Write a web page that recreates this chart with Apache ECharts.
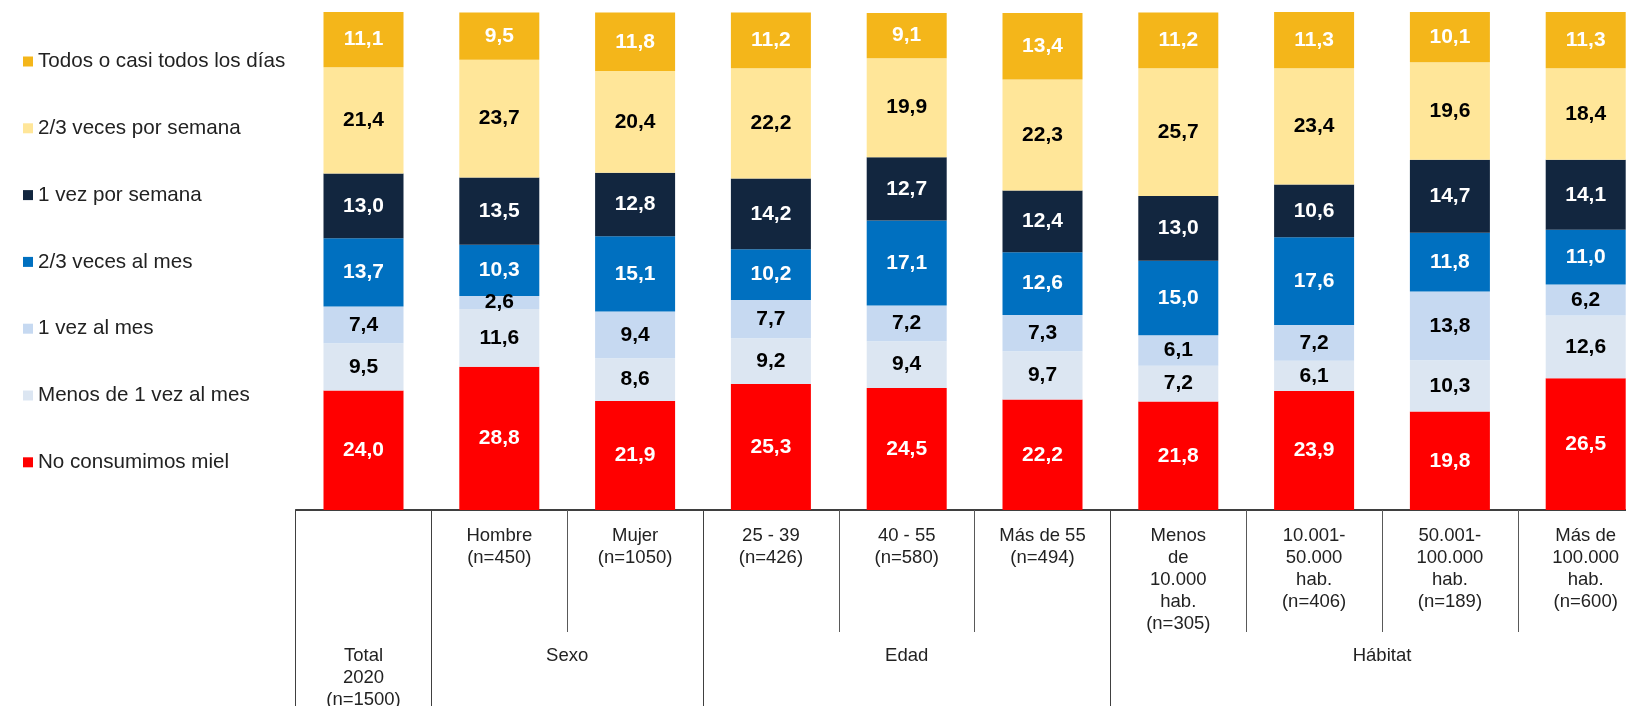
<!DOCTYPE html>
<html><head><meta charset="utf-8">
<script src="https://cdn.jsdelivr.net/npm/echarts@6/dist/echarts.min.js"></script>
<style>html,body{margin:0;padding:0;background:#fff}#c{width:1626px;height:706px}</style>
</head><body><div id="c"></div>
<script>
// ---- Data ----
const categories = ['Total 2020', 'Hombre', 'Mujer', '25 - 39', '40 - 55', 'Más de 55', 'Menos de 10.000 hab.', '10.001-50.000 hab.', '50.001-100.000 hab.', 'Más de 100.000 hab.'];
const categoryLabels = ['', 'Hombre\n(n=450)', 'Mujer\n(n=1050)', '25 - 39\n(n=426)', '40 - 55\n(n=580)', 'Más de 55\n(n=494)', 'Menos\nde\n10.000\nhab.\n(n=305)', '10.001-\n50.000\nhab.\n(n=406)', '50.001-\n100.000\nhab.\n(n=189)', 'Más de\n100.000\nhab.\n(n=600)'];
const groupLabels = ['Total\n2020\n(n=1500)', 'Sexo', 'Edad', 'Hábitat'];
const groupCenters = [0, 1.5, 4, 7.5];
const groupBoundaries = [-0.5, 0.5, 2.5, 5.5];

const noConsumimos  = [24.0, 28.8, 21.9, 25.3, 24.5, 22.2, 21.8, 23.9, 19.8, 26.5];
const menos1Mes     = [9.5, 11.6, 8.6, 9.2, 9.4, 9.7, 7.2, 6.1, 10.3, 12.6];
const unaVezMes     = [7.4, 2.6, 9.4, 7.7, 7.2, 7.3, 6.1, 7.2, 13.8, 6.2];
const dosTresMes    = [13.7, 10.3, 15.1, 10.2, 17.1, 12.6, 15.0, 17.6, 11.8, 11.0];
const unaVezSemana  = [13.0, 13.5, 12.8, 14.2, 12.7, 12.4, 13.0, 10.6, 14.7, 14.1];
const dosTresSemana = [21.4, 23.7, 20.4, 22.2, 19.9, 22.3, 25.7, 23.4, 19.6, 18.4];
const todosDias     = [11.1, 9.5, 11.8, 11.2, 9.1, 13.4, 11.2, 11.3, 10.1, 11.3];

const seriesDefs = [
  {name: 'No consumimos miel', data: noConsumimos, color: '#FF0000', text: '#FFFFFF'},
  {name: 'Menos de 1 vez al mes', data: menos1Mes, color: '#DCE6F2', text: '#000000'},
  {name: '1 vez al mes', data: unaVezMes, color: '#C6D9F1', text: '#000000'},
  {name: '2/3 veces al mes', data: dosTresMes, color: '#0070C0', text: '#FFFFFF'},
  {name: '1 vez por semana', data: unaVezSemana, color: '#12263F', text: '#FFFFFF'},
  {name: '2/3 veces por semana', data: dosTresSemana, color: '#FFE699', text: '#000000'},
  {name: 'Todos o casi todos los días', data: todosDias, color: '#F4B61A', text: '#FFFFFF'}
];

const FONT = '"Liberation Sans", Arial, sans-serif';
const chart = echarts.init(document.getElementById('c'), null, {renderer: 'canvas'});

const option = {
  animation: false,
  backgroundColor: '#ffffff',
  textStyle: {fontFamily: FONT},
  legend: {
    orient: 'vertical',
    left: 18,
    top: 46,
    itemWidth: 10,
    itemHeight: 10,
    itemGap: 45.8,
    icon: 'rect',
    selectedMode: false,
    data: seriesDefs.map(s => s.name).reverse(),
    textStyle: {fontFamily: FONT, fontSize: 20.6, color: '#222', lineHeight: 20}
  },
  grid: {left: 295.6, top: 12.4, width: 1358, height: 497.6, containLabel: false, outerBoundsMode: 'none'},
  xAxis: [
    {
      type: 'category',
      data: categories,
      position: 'bottom',
      axisLine: {show: true, lineStyle: {color: '#000', width: 1.5}},
      axisTick: {show: true, interval: 0, length: 122, lineStyle: {color: '#595959', width: 1}},
      axisLabel: {
        interval: 0, margin: 15, fontSize: 18.5, lineHeight: 22, color: '#222', fontFamily: FONT,
        formatter: (v, i) => categoryLabels[i]
      }
    },
    {
      type: 'value',
      min: -0.5, max: 9.5,
      position: 'bottom',
      gridIndex: 0,
      axisLine: {show: false},
      splitLine: {show: false},
      axisTick: {show: true, customValues: groupBoundaries, length: 196, lineStyle: {color: '#404040', width: 1}},
      axisLabel: {
        customValues: groupCenters, margin: 135, fontSize: 18.5, lineHeight: 22, color: '#222', fontFamily: FONT,
        formatter: v => groupLabels[groupCenters.indexOf(v)]
      }
    }
  ],
  yAxis: {type: 'value', min: 0, max: 100, show: false},
  series: seriesDefs.map(s => ({
    name: s.name,
    type: 'bar',
    stack: 'total',
    xAxisIndex: 0,
    barWidth: 80,
    clip: false,
    data: s.data,
    itemStyle: {color: s.color},
    label: {
      show: true,
      position: 'inside',
      color: s.text,
      fontFamily: FONT,
      fontWeight: 'bold',
      fontSize: 21,
      formatter: p => p.value.toFixed(1).replace('.', ',')
    }
  }))
};
chart.setOption(option);
</script>
</body></html>
